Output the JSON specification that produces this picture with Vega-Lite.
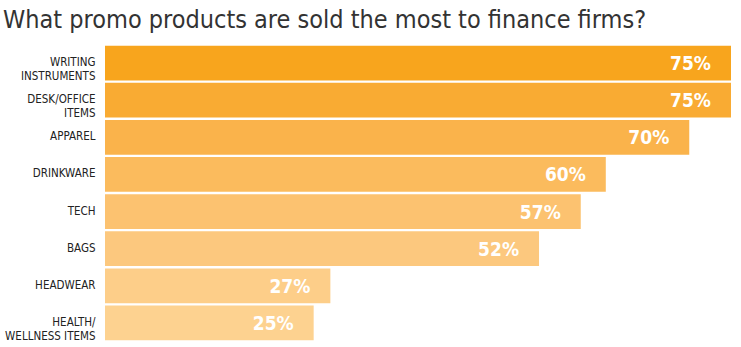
{
  "$schema": "https://vega.github.io/schema/vega-lite/v6.json",
  "width": 626,
  "height": 296,
  "autosize": {"type": "none"},
  "padding": {"left": 105, "top": 45, "right": 10, "bottom": 6},
  "background": "white",
  "title": {
    "text": "What promo products are sold the most to finance firms?",
    "anchor": "start",
    "frame": "group",
    "dx": -102,
    "offset": 12,
    "font": "DejaVu Sans Condensed",
    "fontSize": 25,
    "fontWeight": "normal",
    "color": "#333333"
  },
  "config": {"view": {"stroke": null}},
  "data": {
    "values": [
      {"item": "WRITING|INSTRUMENTS", "pct": 0.75},
      {"item": "DESK/OFFICE|ITEMS", "pct": 0.75},
      {"item": "APPAREL", "pct": 0.70},
      {"item": "DRINKWARE", "pct": 0.60},
      {"item": "TECH", "pct": 0.57},
      {"item": "BAGS", "pct": 0.52},
      {"item": "HEADWEAR", "pct": 0.27},
      {"item": "HEALTH/|WELLNESS ITEMS", "pct": 0.25}
    ]
  },
  "encoding": {
    "y": {
      "field": "item",
      "type": "nominal",
      "sort": null,
      "scale": {"paddingInner": 0.065, "paddingOuter": 0.02},
      "axis": {
        "title": null,
        "ticks": false,
        "domain": false,
        "labelPadding": 10,
        "labelFont": "DejaVu Sans Condensed",
        "labelFontSize": 11.5,
        "labelColor": "#222222",
        "labelLineHeight": 14,
        "labelLimit": 110,
        "labelExpr": "split(datum.value, '|')"
      }
    },
    "x": {
      "field": "pct",
      "type": "quantitative",
      "scale": {"domain": [0, 0.75], "nice": false},
      "axis": null
    }
  },
  "layer": [
    {
      "mark": {"type": "bar"},
      "encoding": {
        "color": {
          "field": "item",
          "type": "nominal",
          "sort": null,
          "legend": null,
          "scale": {
            "domain": ["WRITING|INSTRUMENTS", "DESK/OFFICE|ITEMS", "APPAREL", "DRINKWARE", "TECH", "BAGS", "HEADWEAR", "HEALTH/|WELLNESS ITEMS"],
            "range": ["#F8A51D", "#F9AB33", "#FAB34B", "#FBBB5D", "#FCC270", "#FCC87E", "#FDCE89", "#FDD290"]
          }
        }
      }
    },
    {
      "mark": {"type": "text", "align": "right", "baseline": "middle", "dx": -20, "dy": 1, "color": "white", "font": "DejaVu Sans Condensed", "fontSize": 19, "fontWeight": "bold"},
      "encoding": {
        "text": {"field": "pct", "type": "quantitative", "format": ".0%"}
      }
    }
  ]
}
